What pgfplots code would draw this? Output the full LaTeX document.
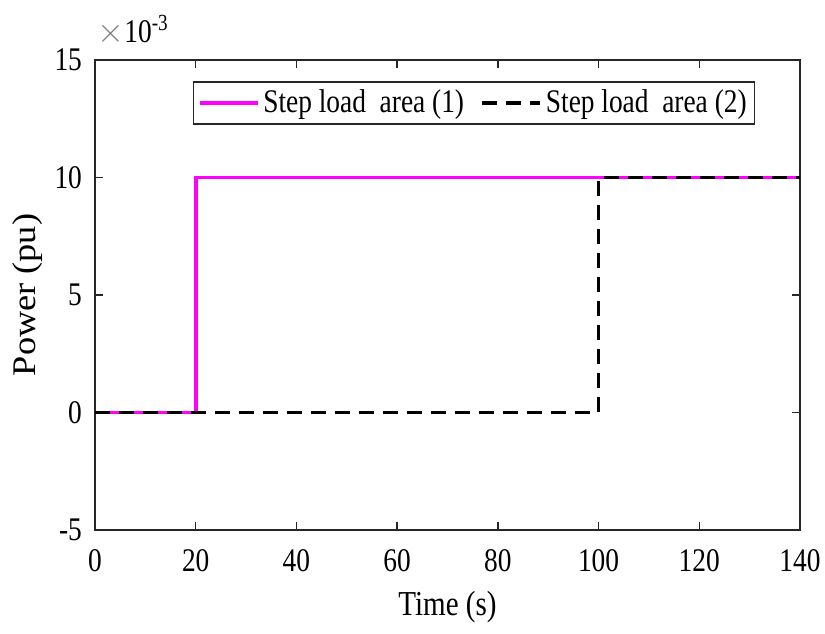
\documentclass[border=0pt]{standalone}
\usepackage{fontspec}
\setmainfont[FakeStretch=0.83]{Liberation Serif}
\newfontfamily\ylabfont[FakeStretch=1.1]{Liberation Serif}
\usepackage{pgfplots}
\pgfplotsset{compat=1.18}
\definecolor{axgray}{RGB}{38,38,38}
\begin{document}
\begin{tikzpicture}
\path[use as bounding box] (-47.5pt,-51.5pt) rectangle (365pt,265pt);
\begin{axis}[
  at={(0,0)}, anchor=south west,
  scale only axis, width=352.5pt, height=235pt,
  xmin=0, xmax=140, ymin=-5, ymax=15,
  xtick={0,20,...,140}, ytick={-5,0,5,10,15},
  tick align=inside, major tick length=4pt,
  axis line style={axgray, line width=0.75pt},
  every tick/.style={axgray, line width=0.75pt},
  /pgf/number format/assume math mode=true,
  ticklabel style={font=\fontsize{16.5}{16.5}\selectfont, text=black},
  xticklabel style={yshift=-6pt},
  yticklabel style={xshift=-3pt},
  xlabel={Time (s)}, ylabel={Power (pu)},
  xlabel style={font=\fontsize{17.5}{17.5}\selectfont, at={(axis description cs:0.5,-0.165)}, anchor=center},
  ylabel style={font=\ylabfont\fontsize{16.5}{16.5}\selectfont, at={(axis description cs:-0.095,0.5)}, anchor=center},
  legend columns=2,
  legend style={at={(rel axis cs:0.139,0.955)}, anchor=north west,
    draw=axgray, line width=0.75pt, font=\fontsize{16.5}{16.5}\selectfont,
    inner xsep=2pt, inner ysep=2pt},
  /tikz/every even column/.append style={column sep=6pt},
  legend image code/.code={\draw[#1] (0pt,0pt) -- (29pt,0pt);},
  clip=false,
]
\addplot[const plot, color={rgb,255:red,255;green,0;blue,255}, line width=1.8pt] coordinates {
(0,0) (20,0) (20,10) (140,10)};
\addlegendentry{Step load\ \ area (1)}
\addplot[const plot, black, line width=1.9pt, dash pattern=on 7.5pt off 4.5pt] coordinates {
(0,0) (100,0) (100,10) (140,10)};
\addlegendentry{Step load\ \ area (2)}
\node[anchor=south west, inner sep=0pt, font=\fontsize{16.5}{16.5}\selectfont] at (rel axis cs:0.003,1.03) {\textcolor{gray}{$\times$}10\textsuperscript{-3}};
\end{axis}
\end{tikzpicture}
\end{document}
